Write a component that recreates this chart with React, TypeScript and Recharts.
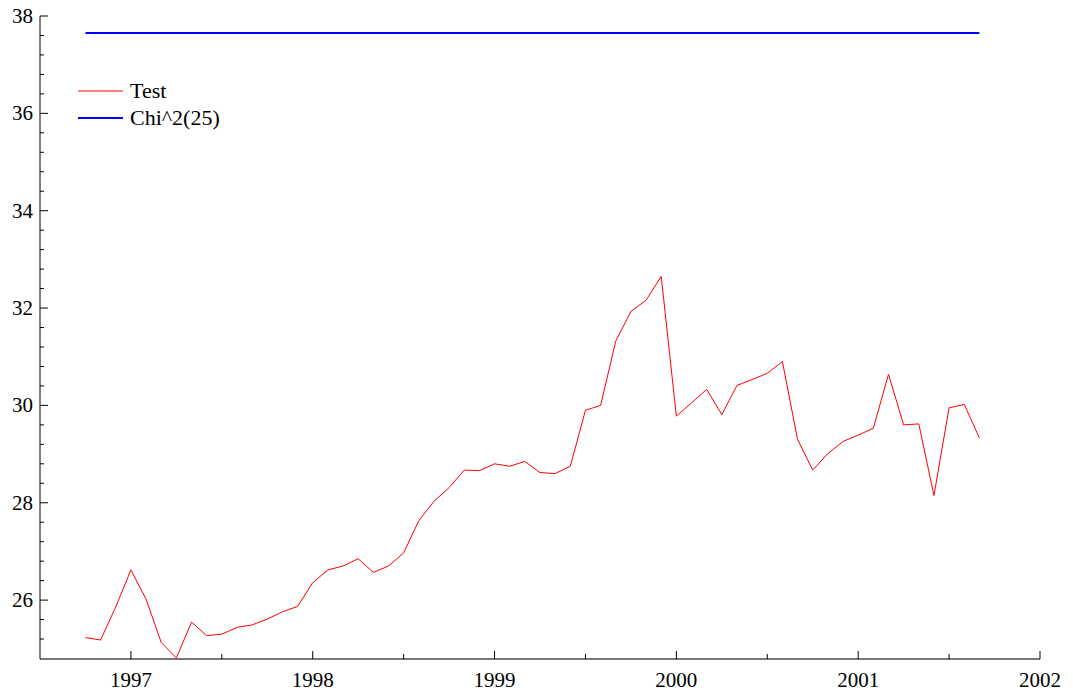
import { Line, LineChart, XAxis, YAxis } from "recharts";

// monthly observations, Oct 1996 .. Sep 2001
const months = [
  "1996-10", "1996-11", "1996-12",
  "1997-01", "1997-02", "1997-03", "1997-04", "1997-05", "1997-06", "1997-07", "1997-08", "1997-09", "1997-10", "1997-11", "1997-12",
  "1998-01", "1998-02", "1998-03", "1998-04", "1998-05", "1998-06", "1998-07", "1998-08", "1998-09", "1998-10", "1998-11", "1998-12",
  "1999-01", "1999-02", "1999-03", "1999-04", "1999-05", "1999-06", "1999-07", "1999-08", "1999-09", "1999-10", "1999-11", "1999-12",
  "2000-01", "2000-02", "2000-03", "2000-04", "2000-05", "2000-06", "2000-07", "2000-08", "2000-09", "2000-10", "2000-11", "2000-12",
  "2001-01", "2001-02", "2001-03", "2001-04", "2001-05", "2001-06", "2001-07", "2001-08", "2001-09",
];

const testValues = [
  25.23, 25.18, 25.86,
  26.62, 26.02, 25.13, 24.81, 25.55, 25.27, 25.3, 25.44, 25.49, 25.61, 25.76, 25.87,
  26.36, 26.62, 26.7, 26.85, 26.57, 26.7, 26.97, 27.63, 28.03, 28.31, 28.67, 28.66,
  28.8, 28.75, 28.85, 28.62, 28.6, 28.75, 29.9, 30.0, 31.32, 31.93, 32.16, 32.65,
  29.78, 30.05, 30.33, 29.81, 30.41, 30.53, 30.66, 30.9, 29.3, 28.67, 29.01, 29.26,
  29.39, 29.53, 30.64, 29.6, 29.62, 28.15, 29.95, 30.02, 29.33,
];

// 5% critical value of chi^2 with 25 degrees of freedom
const chiCritical = 37.65;

const xTicks = [1997, 1997.5, 1998, 1998.5, 1999, 1999.5, 2000, 2000.5, 2001, 2001.5, 2002];
const yTicks = [
  25.2, 25.6, 26, 26.4, 26.8, 27.2, 27.6, 28, 28.4, 28.8, 29.2, 29.6, 30, 30.4, 30.8, 31.2, 31.6,
  32, 32.4, 32.8, 33.2, 33.6, 34, 34.4, 34.8, 35.2, 35.6, 36, 36.4, 36.8, 37.2, 37.6, 38,
];

function toYear(m: string): number {
  const [y, mo] = m.split("-").map(Number);
  return y + (mo - 1) / 12;
}

const data = months.map((m, i) => ({
  t: toYear(m),
  test: testValues[i],
  chi: chiCritical,
}));

const FONT = "Liberation Serif, Times New Roman, Times, serif";
const textStyle = { fontFamily: FONT, fontSize: 21 };

function isWhole(v: number) {
  return Math.abs(v - Math.round(v)) < 1e-6;
}

function XTick({ x, y, payload }: any) {
  const major = isWhole(payload.value);
  return (
    <g>
      <line x1={x} x2={x} y1={y} y2={y - (major ? 8 : 5)} stroke="#000" strokeWidth={1} />
      {major && (
        <text x={x} y={y + 28} textAnchor="middle" style={textStyle} fill="#000">
          {payload.value}
        </text>
      )}
    </g>
  );
}

function YTick({ x, y, payload }: any) {
  const v = payload.value;
  const major = isWhole(v) && Math.round(v) % 2 === 0;
  return (
    <g>
      <line x1={x} x2={x + (major ? 8 : 4)} y1={y} y2={y} stroke="#000" strokeWidth={1} />
      {major && (
        <text x={x - 7} y={y} textAnchor="end" dominantBaseline="central" style={textStyle} fill="#000">
          {Math.round(v)}
        </text>
      )}
    </g>
  );
}

function LegendBox() {
  return (
    <svg width={300} height={140} style={{ position: "absolute", left: 0, top: 0, pointerEvents: "none" }}>
      <line x1={70} x2={115} y1={91} y2={91} stroke="#ff0000" strokeWidth={1} />
      <text x={122} y={98} style={{ ...textStyle, fontSize: 22 }} fill="#000">Test</text>
      <line x1={70} x2={115} y1={118} y2={118} stroke="#0000ff" strokeWidth={2} />
      <text x={122} y={125} style={{ ...textStyle, fontSize: 22 }} fill="#000">Chi^2(25)</text>
    </svg>
  );
}

export default function App() {
  return (
    <div style={{ position: "relative", width: 1057, height: 696, marginTop: -8, marginBottom: -8, fontFamily: FONT }}>
      <LineChart width={1057} height={696} data={data} margin={{ top: 16, right: 25, left: 0, bottom: 0 }}>
        <XAxis
          dataKey="t"
          type="number"
          domain={[1996.5, 2002]}
          ticks={xTicks}
          interval={0}
          tickSize={0}
          tickMargin={0}
          tick={<XTick />}
          tickLine={false}
          height={37}
          axisLine={{ stroke: "#777", strokeWidth: 2 }}
          allowDataOverflow
        />
        <YAxis
          type="number"
          domain={[24.79, 38]}
          ticks={yTicks}
          interval={0}
          tickSize={0}
          tickMargin={0}
          tick={<YTick />}
          tickLine={false}
          width={32}
          axisLine={{ stroke: "#000", strokeWidth: 1 }}
          allowDataOverflow
        />
        <Line dataKey="chi" stroke="#0000ff" strokeWidth={2} dot={false} activeDot={false} isAnimationActive={false} />
        <Line dataKey="test" stroke="#ff0000" strokeWidth={1} dot={false} activeDot={false} isAnimationActive={false} />
      </LineChart>
      <LegendBox />
    </div>
  );
}
